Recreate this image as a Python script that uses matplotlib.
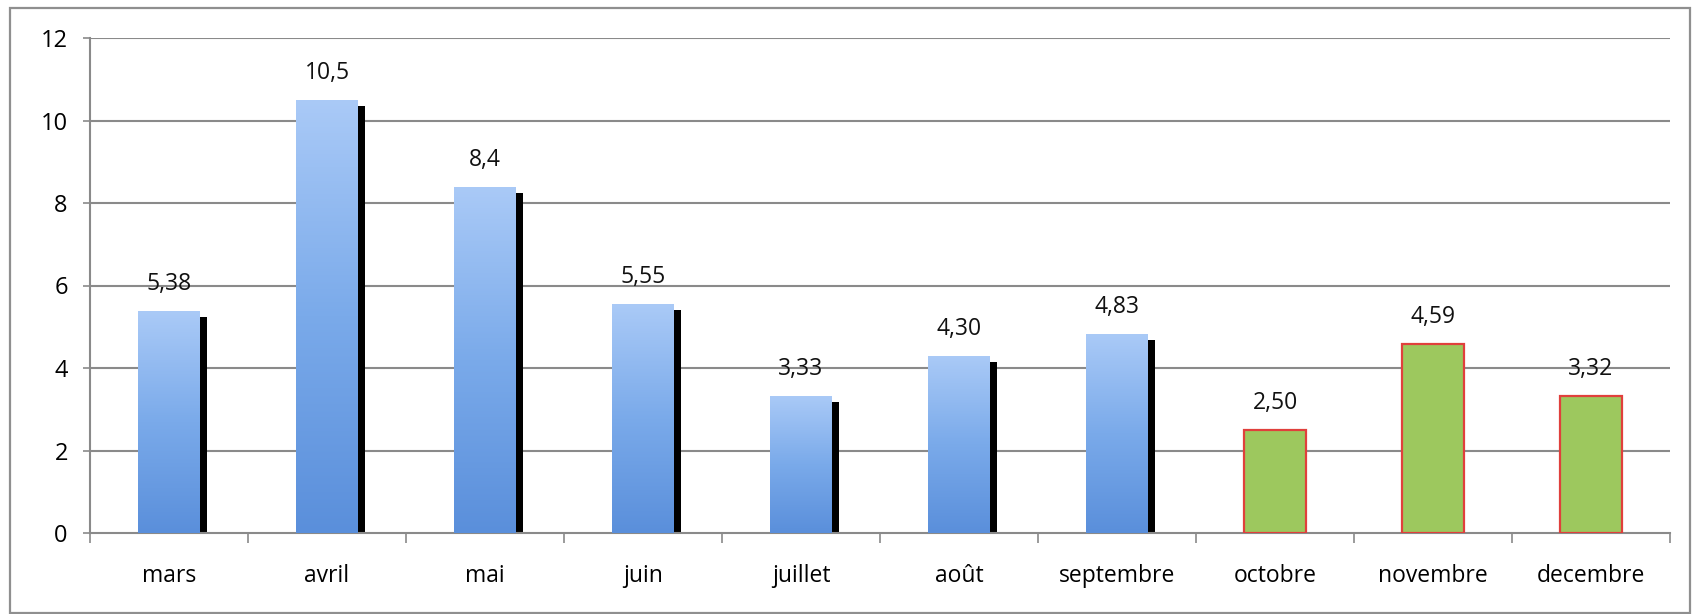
import matplotlib
matplotlib.use("Agg")
import matplotlib.pyplot as plt
import numpy as np
from matplotlib.patches import Rectangle
from matplotlib.colors import LinearSegmentedColormap

categories = ["mars", "avril", "mai", "juin", "juillet", "août", "septembre",
              "octobre", "novembre", "decembre"]
values = [5.38, 10.5, 8.4, 5.55, 3.33, 4.30, 4.83, 2.50, 4.59, 3.32]
labels = ["5,38", "10,5", "8,4", "5,55", "3,33", "4,30", "4,83", "2,50", "4,59", "3,32"]
kinds = ["blue"] * 7 + ["green"] * 3
yticks = [0, 2, 4, 6, 8, 10, 12]

plt.rcParams['font.family'] = ['Open Sans', 'DejaVu Sans']

W, H = 1697, 614
fig = plt.figure(figsize=(W / 100, H / 100), dpi=100)
fig.patch.set_facecolor("white")
ax = fig.add_axes([90 / W, (H - 533) / H, (1670 - 90) / W, (533 - 38) / H])

# outer frame
fig.patches.append(Rectangle((10 / W, 1 / H), (1690 - 10) / W, (606 - 1) / H,
                             transform=fig.transFigure, fill=False,
                             edgecolor="#8f8f8f", linewidth=1.6))

x = np.arange(len(categories))
bw = 0.39
ax.set_xlim(-0.5, len(categories) - 0.5)
ax.set_ylim(0, 12)

grad = np.linspace(0, 1, 256).reshape(-1, 1)
bcmap = LinearSegmentedColormap.from_list("b", ["#5a8fdb", "#7aaaea", "#aacaf7"])

for xi, v, k in zip(x, values, kinds):
    if k == "blue":
        # shadow
        ax.bar(xi + bw / 2, v - 0.15, width=0.045, align="edge",
               color="black", zorder=2)
        bar = ax.bar(xi, v, width=bw, color="#7aaaea", zorder=3)[0]
        im = ax.imshow(grad, cmap=bcmap, aspect="auto", origin="lower",
                       extent=(xi - bw / 2, xi + bw / 2, 0, v), zorder=3.5)
        im.set_clip_path(bar)
    else:
        ax.bar(xi, v, width=bw, color="#9dc85e", edgecolor="#e0403c",
               linewidth=1.6, zorder=3)

for xi, v, t in zip(x, values, labels):
    ax.text(xi, v + 0.36, t, ha="center", va="bottom", fontsize=16.5,
            color="#111111", zorder=5)

ax.set_yticks(yticks)
ax.set_yticklabels([str(t) for t in yticks], fontsize=17)
for t in yticks[1:]:
    ax.axhline(t, color="#8a8a8a", linewidth=1.5, zorder=1)

ax.set_xticks(x)
ax.set_xticklabels(categories, fontsize=16.5)
ax.set_xticks(np.arange(-0.5, len(categories)), minor=True)
ax.tick_params(axis="x", which="major", length=0, pad=22)
ax.tick_params(axis="x", which="minor", length=7, color="#8a8a8a", width=1.2)
ax.tick_params(axis="y", length=5, color="#8a8a8a", width=1.2, pad=11)

for s in ["top", "right"]:
    ax.spines[s].set_visible(False)
for s in ["left", "bottom"]:
    ax.spines[s].set_color("#8a8a8a")
    ax.spines[s].set_linewidth(1.5)

fig.savefig("out.png", dpi=100, facecolor="white")
